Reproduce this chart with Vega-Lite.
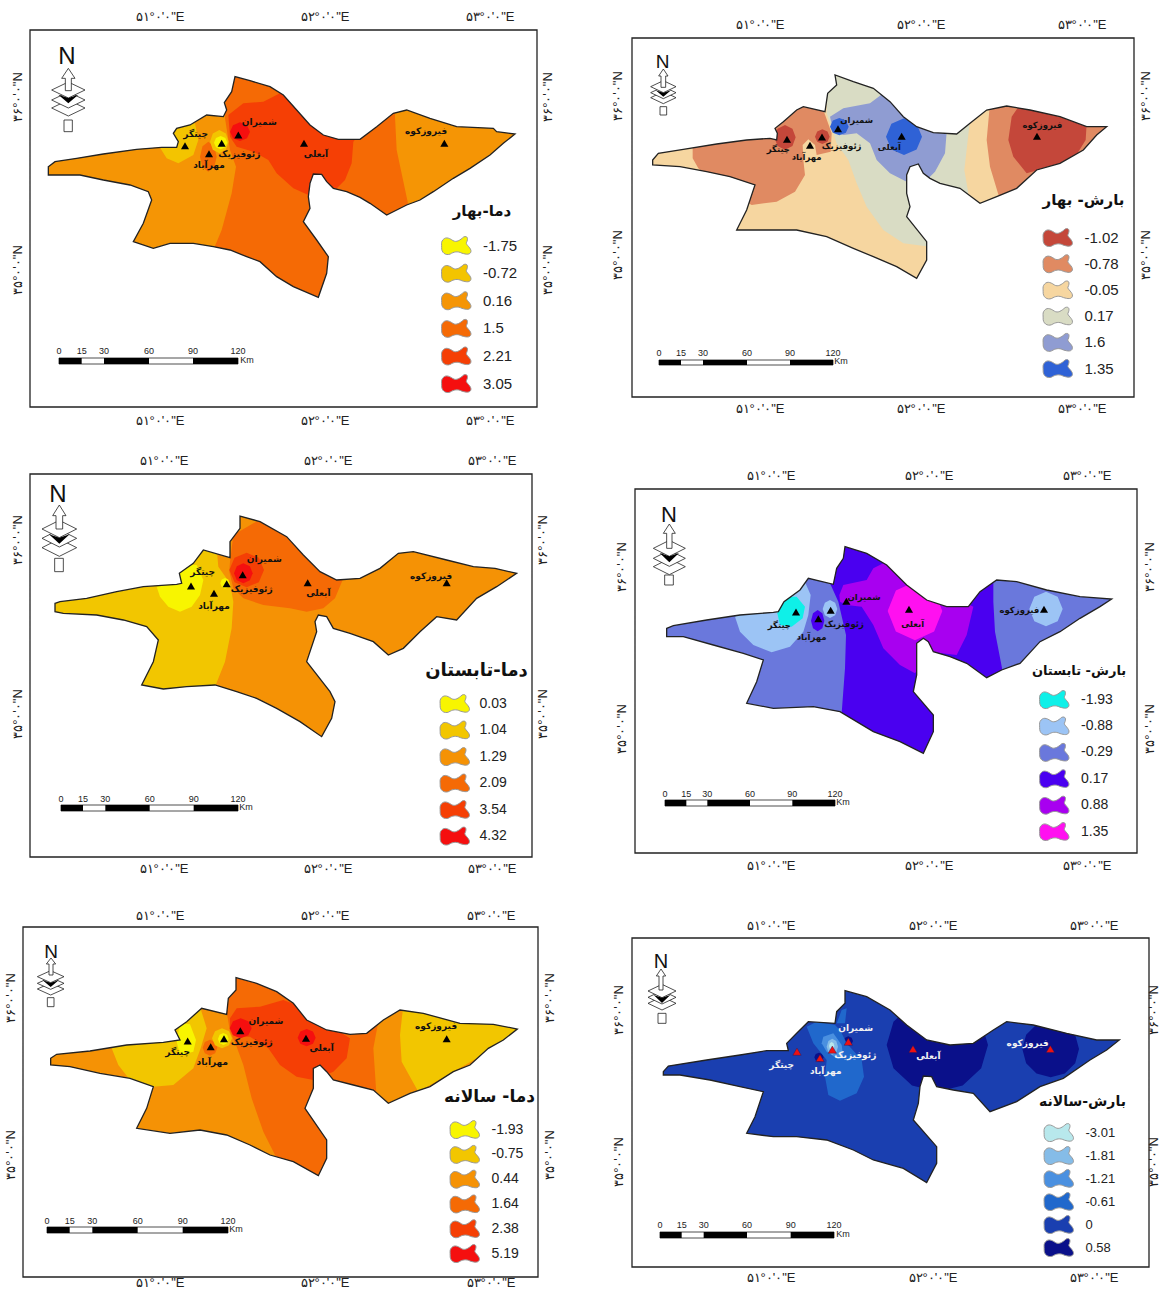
{"$schema":"https://vega.github.io/schema/vega-lite/v6.json","padding":0,"background":"white","config":{"view":{"stroke":null},"concat":{"spacing":0}},"bounds":"flush","columns":2,"spacing":0,"resolve":{"scale":{"color":"independent"},"legend":{"color":"independent"}},
"datasets":{
"frames":[
{"panel":"TL","type":"Feature","geometry":{"type":"Polygon","coordinates":[[[0,-90],[0,1041],[1521,1041],[1521,-90],[0,-90]],[[55,320],[75,305],[140,295],[220,282],[320,268],[395,262],[440,262],[445,245],[430,220],[440,205],[480,195],[530,165],[580,170],[590,150],[583,128],[605,95],[615,50],[660,62],[720,80],[760,105],[800,150],[840,195],[880,225],[925,238],[990,238],[1040,200],[1090,160],[1130,150],[1200,175],[1280,200],[1390,205],[1400,215],[1455,222],[1420,250],[1380,285],[1320,325],[1270,355],[1210,395],[1170,420],[1130,435],[1070,465],[1020,430],[990,412],[950,395],[910,385],[890,365],[875,343],[850,342],[840,370],[835,410],[840,445],[820,485],[860,540],[895,590],[890,640],[865,712],[790,680],[740,650],[690,605],[650,590],[600,570],[550,560],[490,550],[420,550],[370,565],[310,545],[340,490],[365,420],[355,395],[300,375],[220,360],[150,345],[100,345],[55,345],[55,320]]]}},
{"panel":"TR","type":"Feature","geometry":{"type":"Polygon","coordinates":[[[-24,-66],[-24,1011],[1482,1011],[1482,-66],[-24,-66]],[[38,300],[55,280],[130,268],[230,252],[320,240],[390,235],[410,240],[412,220],[405,205],[430,185],[470,150],[490,140],[555,155],[563,100],[590,75],[585,45],[640,65],[700,85],[750,125],[790,170],[830,200],[880,218],[950,222],[990,190],[1040,150],[1100,138],[1170,150],[1260,170],[1340,200],[1400,200],[1370,225],[1330,270],[1260,310],[1190,330],[1130,385],[1070,410],[1020,430],[960,385],[900,370],[870,355],[850,340],[835,312],[810,320],[800,345],[800,400],[810,440],[800,470],[860,545],[860,600],[830,655],[770,620],[700,590],[640,565],[560,530],[470,510],[370,510],[290,510],[320,450],[345,375],[270,350],[200,335],[120,320],[38,315],[38,300]]]}},
{"panel":"ML","type":"Feature","geometry":{"type":"Polygon","coordinates":[[[0,-93],[0,1056],[1506,1056],[1506,-93],[0,-93]],[[75,295],[90,290],[170,280],[260,260],[340,245],[440,238],[455,235],[448,205],[490,175],[520,135],[600,158],[600,110],[630,70],[630,33],[690,50],[770,95],[820,150],[870,200],[920,225],[990,220],[1050,190],[1105,145],[1150,140],[1250,165],[1330,185],[1395,190],[1460,205],[1400,245],[1340,280],[1280,345],[1220,335],[1170,380],[1120,430],[1075,450],[1030,410],[960,385],[910,370],[890,335],[865,330],[855,350],[860,380],[830,470],[900,560],[915,590],[905,640],[875,695],[810,650],[740,610],[680,580],[620,560],[555,540],[470,545],[400,552],[335,540],[370,470],[385,405],[350,365],[280,345],[200,330],[100,325],[75,320],[75,295]]]}},
{"panel":"MR","type":"Feature","geometry":{"type":"Polygon","coordinates":[[[-15,-138],[-15,954],[1491,954],[1491,-138],[-15,-138]],[[80,280],[100,272],[200,255],[300,240],[400,232],[415,230],[432,200],[480,165],[505,130],[580,148],[590,100],[610,70],[615,35],[680,55],[740,90],[800,150],[860,195],[920,215],[985,215],[1020,170],[1070,135],[1130,140],[1220,165],[1320,185],[1415,192],[1380,215],[1320,250],[1260,290],[1200,320],[1140,385],[1085,405],[1040,428],[980,385],[930,365],[880,350],[865,320],[850,310],[830,325],[830,370],[830,420],[820,470],[880,540],[880,590],[850,655],[780,620],[700,590],[650,560],[600,530],[520,515],[400,520],[320,505],[350,440],[370,375],[310,355],[220,330],[130,305],[80,305],[80,280]]]}},
{"panel":"BL","type":"Feature","geometry":{"type":"Polygon","coordinates":[[[-21,-114],[-21,936],[1524,936],[1524,-114],[-21,-114]],[[62,280],[80,268],[180,258],[290,240],[400,232],[450,225],[435,195],[470,170],[515,130],[590,148],[595,100],[618,75],[618,38],[680,55],[740,80],[790,115],[830,165],[890,195],[960,208],[1010,205],[1060,165],[1110,135],[1180,145],[1290,175],[1390,178],[1462,192],[1420,225],[1375,250],[1320,300],[1270,320],[1200,365],[1140,385],[1075,415],[1030,375],[970,360],[910,345],[890,320],[870,300],[850,310],[850,370],[825,430],[890,525],[890,580],[865,632],[790,590],[720,570],[660,540],[590,510],[510,495],[420,505],[320,490],[350,430],[370,365],[300,340],[210,325],[120,305],[62,300],[62,280]]]}},
{"panel":"BR","type":"Feature","geometry":{"type":"Polygon","coordinates":[[[-24,-126],[-24,861],[1527,861],[1527,-126],[-24,-126]],[[70,275],[85,258],[200,240],[300,225],[380,212],[445,212],[440,190],[470,160],[505,125],[585,130],[590,95],[615,70],[615,32],[680,50],[750,90],[800,135],[860,180],[930,195],[1000,190],[1060,150],[1100,125],[1180,135],[1280,160],[1370,180],[1438,180],[1400,210],[1350,240],[1270,295],[1200,320],[1130,365],[1050,395],[1000,340],[940,330],[890,320],[875,290],[850,288],[840,320],[835,370],[820,420],[890,500],[890,550],[860,608],[790,565],[700,540],[640,510],[560,480],[470,470],[400,470],[320,460],[345,410],[370,335],[300,320],[210,300],[120,285],[70,285],[70,275]]]}}
],
"zones":[
{"panel":"TL","value":"0.16","type":"Feature","geometry":{"type":"Polygon","coordinates":[[[30,20],[1470,20],[1470,730],[30,730],[30,20]]]}},
{"panel":"TL","value":"1.5","type":"Feature","geometry":{"type":"MultiPolygon","coordinates":[[[[550,730],[550,570],[575,510],[605,400],[618,320],[600,270],[585,175],[590,30],[1095,30],[1095,170],[1100,270],[1135,435],[1135,730],[550,730]]],[[[510,290],[517.5,258.5],[535,245],[552.5,258.5],[560,290],[552.5,321.5],[535,335],[517.5,321.5],[510,290]]]]}},
{"panel":"TL","value":"2.21","type":"Feature","geometry":{"type":"Polygon","coordinates":[[[595,165],[640,130],[700,125],[750,100],[760,80],[990,220],[970,245],[965,310],[945,360],[910,395],[835,405],[790,385],[740,340],[715,300],[670,275],[620,260],[600,230],[595,165]]]}},
{"panel":"TL","value":"3.05","type":"Feature","geometry":{"type":"Polygon","coordinates":[[[600,215],[609,195.4],[630,187],[651,195.4],[660,215],[651,234.6],[630,243],[609,234.6],[600,215]]]}},
{"panel":"TL","value":"-0.72","type":"Feature","geometry":{"type":"MultiPolygon","coordinates":[[[[425,195],[495,190],[505,240],[490,285],[445,310],[410,295],[385,255],[425,195]]],[[[540,245],[548.4,220.5],[568,210],[587.6,220.5],[596,245],[587.6,269.5],[568,280],[548.4,269.5],[540,245]]]]}},
{"panel":"TL","value":"-1.75","type":"Feature","geometry":{"type":"Polygon","coordinates":[[[552,248],[558,234],[572,228],[586,234],[592,248],[586,262],[572,268],[558,262],[552,248]]]}},
{"panel":"TR","value":"-0.05","type":"Feature","geometry":{"type":"Polygon","coordinates":[[[30,20],[1470,20],[1470,730],[30,730],[30,20]]]}},
{"panel":"TR","value":"0.17","type":"Feature","geometry":{"type":"Polygon","coordinates":[[[560,30],[700,30],[990,180],[973,330],[985,400],[870,400],[870,560],[790,550],[730,510],[680,440],[650,370],[625,300],[590,250],[560,160],[560,30]]]}},
{"panel":"TR","value":"-0.78","type":"Feature","geometry":{"type":"MultiPolygon","coordinates":[[[[158,240],[470,130],[550,150],[575,220],[572,275],[530,285],[525,255],[505,238],[488,255],[490,300],[495,345],[465,395],[410,425],[335,435],[240,380],[175,325],[158,295],[158,240]]],[[[1050,130],[1420,190],[1420,230],[1200,420],[1080,420],[1050,320],[1040,240],[1050,130]]]]}},
{"panel":"TR","value":"-1.02","type":"Feature","geometry":{"type":"MultiPolygon","coordinates":[[[[1150,120],[1230,130],[1340,190],[1337,240],[1300,300],[1160,340],[1120,290],[1105,240],[1115,170],[1150,120]]],[[[403,232],[412.6,206.1],[435,195],[457.4,206.1],[467,232],[457.4,257.9],[435,269],[412.6,257.9],[403,232]]],[[[525,230],[531.6,214.6],[547,208],[562.4,214.6],[569,230],[562.4,245.4],[547,252],[531.6,245.4],[525,230]]]]}},
{"panel":"TR","value":"1.6","type":"Feature","geometry":{"type":"Polygon","coordinates":[[[570,170],[610,145],[690,130],[730,100],[780,120],[830,180],[920,215],[915,280],[885,335],[860,360],[800,365],[750,340],[710,300],[690,250],[650,220],[610,225],[580,215],[570,170]]]}},
{"panel":"TR","value":"1.35","type":"Feature","geometry":{"type":"MultiPolygon","coordinates":[[[[570,200],[578.4,181.8],[598,174],[617.6,181.8],[626,200],[617.6,218.2],[598,226],[578.4,218.2],[570,200]]],[[[738,230],[754.2,191.5],[792,175],[829.8,191.5],[846,230],[829.8,268.5],[792,285],[754.2,268.5],[738,230]]]]}},
{"panel":"ML","value":"1.29","type":"Feature","geometry":{"type":"Polygon","coordinates":[[[30,20],[1470,20],[1470,730],[30,730],[30,20]]]}},
{"panel":"ML","value":"1.04","type":"Feature","geometry":{"type":"Polygon","coordinates":[[[40,250],[520,110],[560,130],[565,185],[600,235],[610,290],[605,370],[585,470],[555,545],[555,600],[40,600],[40,250]]]}},
{"panel":"ML","value":"0.03","type":"Feature","geometry":{"type":"MultiPolygon","coordinates":[[[[450,180],[500,180],[520,225],[510,270],[485,305],[450,320],[415,305],[390,275],[380,245],[445,230],[450,180]]],[[[571,235],[575.2,223.8],[585,219],[594.8,223.8],[599,235],[594.8,246.2],[585,251],[575.2,246.2],[571,235]]]]}},
{"panel":"ML","value":"2.09","type":"Feature","geometry":{"type":"Polygon","coordinates":[[[600,170],[610,90],[670,55],[700,40],[800,80],[940,220],[915,280],[880,310],[830,320],[780,310],[700,300],[640,280],[610,250],[598,200],[600,170]]]}},
{"panel":"ML","value":"3.54","type":"Feature","geometry":{"type":"Polygon","coordinates":[[[598,195],[613.6,158.6],[650,143],[686.4,158.6],[702,195],[686.4,231.4],[650,247],[613.6,231.4],[598,195]]]}},
{"panel":"ML","value":"4.32","type":"Feature","geometry":{"type":"Polygon","coordinates":[[[612,205],[620.4,184],[640,175],[659.6,184],[668,205],[659.6,226],[640,235],[620.4,226],[612,205]]]}},
{"panel":"MR","value":"-0.29","type":"Feature","geometry":{"type":"Polygon","coordinates":[[[30,20],[1470,20],[1470,730],[30,730],[30,20]]]}},
{"panel":"MR","value":"0.17","type":"Feature","geometry":{"type":"MultiPolygon","coordinates":[[[[605,680],[605,535],[615,400],[618,300],[595,200],[570,145],[590,20],[1060,140],[1060,200],[1065,290],[1090,420],[880,680],[605,680]]],[[[513,257],[519,234.6],[533,225],[547,234.6],[553,257],[547,279.4],[533,289],[519,279.4],[513,257]]]]}},
{"panel":"MR","value":"0.88","type":"Feature","geometry":{"type":"Polygon","coordinates":[[[598,180],[610,150],[680,135],[700,100],[730,85],[1000,215],[980,300],[950,360],[870,350],[825,415],[780,390],[730,340],[700,270],[665,215],[620,210],[600,200],[598,180]]]}},
{"panel":"MR","value":"1.35","type":"Feature","geometry":{"type":"Polygon","coordinates":[[[743,228],[767.6,166.4],[825,140],[882.4,166.4],[907,228],[882.4,289.6],[825,316],[767.6,289.6],[743,228]]]}},
{"panel":"MR","value":"-0.88","type":"Feature","geometry":{"type":"MultiPolygon","coordinates":[[[[285,245],[490,130],[512,180],[505,240],[490,290],[450,335],[395,352],[340,330],[300,290],[285,245]]],[[[548,222],[554.6,203.1],[570,195],[585.4,203.1],[592,222],[585.4,240.9],[570,249],[554.6,240.9],[548,222]]],[[[1168,222],[1183,185.6],[1218,170],[1253,185.6],[1268,222],[1253,258.4],[1218,274],[1183,258.4],[1168,222]]]]}},
{"panel":"MR","value":"-1.93","type":"Feature","geometry":{"type":"Polygon","coordinates":[[[440,185],[470,185],[495,215],[488,250],[455,275],[420,270],[412,235],[440,185]]]}},
{"panel":"BL","value":"0.44","type":"Feature","geometry":{"type":"Polygon","coordinates":[[[30,20],[1470,20],[1470,730],[30,730],[30,20]]]}},
{"panel":"BL","value":"1.64","type":"Feature","geometry":{"type":"MultiPolygon","coordinates":[[[[590,140],[610,20],[1045,170],[1030,250],[1040,400],[870,650],[740,580],[700,500],[665,400],[640,300],[618,240],[600,200],[590,140]]],[[[518,248],[524.6,231.2],[540,224],[555.4,231.2],[562,248],[555.4,264.8],[540,272],[524.6,264.8],[518,248]]]]}},
{"panel":"BL","value":"2.38","type":"Feature","geometry":{"type":"Polygon","coordinates":[[[600,160],[620,130],[690,125],[760,105],[800,120],[960,220],[950,280],[910,320],[850,345],[800,335],[750,300],[715,250],[660,215],[620,215],[600,190],[600,160]]]}},
{"panel":"BL","value":"5.19","type":"Feature","geometry":{"type":"MultiPolygon","coordinates":[[[[599,190],[608.9,169],[632,160],[655.1,169],[665,190],[655.1,211],[632,220],[608.9,211],[599,190]]],[[[803,218],[811.1,199.8],[830,192],[848.9,199.8],[857,218],[848.9,236.2],[830,244],[811.1,236.2],[803,218]]]]}},
{"panel":"BL","value":"-0.75","type":"Feature","geometry":{"type":"MultiPolygon","coordinates":[[[[245,250],[510,125],[530,190],[512,250],[490,310],[430,360],[370,365],[300,345],[265,300],[245,250]]],[[[1120,120],[1480,180],[1480,200],[1165,380],[1115,290],[1110,210],[1120,120]]],[[[546,220],[555,199],[576,190],[597,199],[606,220],[597,241],[576,250],[555,241],[546,220]]]]}},
{"panel":"BL","value":"-1.93","type":"Feature","geometry":{"type":"MultiPolygon","coordinates":[[[[450,175],[480,178],[498,225],[490,260],[450,270],[440,230],[450,175]]],[[[564,222],[568.8,209.4],[580,204],[591.2,209.4],[596,222],[591.2,234.6],[580,240],[568.8,234.6],[564,222]]]]}},
{"panel":"BR","value":"0","type":"Feature","geometry":{"type":"Polygon","coordinates":[[[30,20],[1470,20],[1470,730],[30,730],[30,20]]]}},
{"panel":"BR","value":"0.58","type":"Feature","geometry":{"type":"MultiPolygon","coordinates":[[[[740,195],[760.4,125],[816,73.8],[892,55],[968,73.8],[1023.6,125],[1044,195],[1023.6,265],[968,316.2],[892,335],[816,316.2],[760.4,265],[740,195]]],[[[1147,207],[1158.4,164.5],[1189.5,133.4],[1232,122],[1274.5,133.4],[1305.6,164.5],[1317,207],[1305.6,249.5],[1274.5,280.6],[1232,292],[1189.5,280.6],[1158.4,249.5],[1147,207]]],[[[611,183],[615.2,173.2],[625,169],[634.8,173.2],[639,183],[634.8,192.8],[625,197],[615.2,192.8],[611,183]]],[[[523,232],[527.2,222.2],[537,218],[546.8,222.2],[551,232],[546.8,241.8],[537,246],[527.2,241.8],[523,232]]]]}},
{"panel":"BR","value":"-0.61","type":"Feature","geometry":{"type":"MultiPolygon","coordinates":[[[[500,140],[530,125],[585,135],[600,150],[620,190],[665,240],[672,290],[650,340],[600,362],[565,345],[555,290],[560,240],[520,190],[500,140]]],[[[590,130],[605,90],[620,85],[615,130],[590,130]]]]}},
{"panel":"BR","value":"-1.21","type":"Feature","geometry":{"type":"Polygon","coordinates":[[[550,170],[580,160],[605,195],[610,235],[590,235],[560,215],[545,190],[550,170]]]}},
{"panel":"BR","value":"-1.81","type":"Feature","geometry":{"type":"Polygon","coordinates":[[[560,200],[565.1,183.2],[577,176],[588.9,183.2],[594,200],[588.9,216.8],[577,224],[565.1,216.8],[560,200]]]}},
{"panel":"BR","value":"-3.01","type":"Feature","geometry":{"type":"Polygon","coordinates":[[[567,198],[569.4,189.6],[575,186],[580.6,189.6],[583,198],[580.6,206.4],[575,210],[569.4,206.4],[567,198]]]}}
],
"ornWhite":[
{"panel":"TL","type":"Feature","geometry":{"type":"Polygon","coordinates":[[[102,180],[127,180],[127,215],[102,215],[102,180]]]}},
{"panel":"TL","type":"Feature","geometry":{"type":"Polygon","coordinates":[[[65,144],[115,120],[165,144],[115,168],[65,144]]]}},
{"panel":"TL","type":"Feature","geometry":{"type":"Polygon","coordinates":[[[65,120],[115,96],[165,120],[115,144],[65,120]]]}},
{"panel":"TL","type":"Feature","geometry":{"type":"Polygon","coordinates":[[[65,90],[115,66],[165,90],[115,114],[65,90]]]}},
{"panel":"TL","type":"Feature","geometry":{"type":"Polygon","coordinates":[[[115,25],[135,55],[124,55],[124,92],[106,92],[106,55],[95,55],[115,25]]]}},
{"panel":"TL","type":"Feature","geometry":{"type":"Polygon","coordinates":[[[87,894],[624,894],[624,912],[87,912],[87,894]]]}},
{"panel":"TR","type":"Feature","geometry":{"type":"Polygon","coordinates":[[[60,140],[80,140],[80,165],[60,165],[60,140]]]}},
{"panel":"TR","type":"Feature","geometry":{"type":"Polygon","coordinates":[[[32,113],[70,95],[108,113],[70,131],[32,113]]]}},
{"panel":"TR","type":"Feature","geometry":{"type":"Polygon","coordinates":[[[32,98],[70,80],[108,98],[70,116],[32,98]]]}},
{"panel":"TR","type":"Feature","geometry":{"type":"Polygon","coordinates":[[[32,80],[70,62],[108,80],[70,98],[32,80]]]}},
{"panel":"TR","type":"Feature","geometry":{"type":"Polygon","coordinates":[[[70,27],[84,48],[77,48],[77,82],[63,82],[63,48],[56,48],[70,27]]]}},
{"panel":"TR","type":"Feature","geometry":{"type":"Polygon","coordinates":[[[57,900],[579,900],[579,915],[57,915],[57,900]]]}},
{"panel":"ML","type":"Feature","geometry":{"type":"Polygon","coordinates":[[[74,160],[100,160],[100,200],[74,200],[74,160]]]}},
{"panel":"ML","type":"Feature","geometry":{"type":"Polygon","coordinates":[[[36,128],[88,102],[140,128],[88,154],[36,128]]]}},
{"panel":"ML","type":"Feature","geometry":{"type":"Polygon","coordinates":[[[36,100],[88,74],[140,100],[88,126],[36,100]]]}},
{"panel":"ML","type":"Feature","geometry":{"type":"Polygon","coordinates":[[[36,72],[88,46],[140,72],[88,98],[36,72]]]}},
{"panel":"ML","type":"Feature","geometry":{"type":"Polygon","coordinates":[[[88,0],[108,32],[98,32],[98,72],[78,72],[78,32],[68,32],[88,0]]]}},
{"panel":"ML","type":"Feature","geometry":{"type":"Polygon","coordinates":[[[93,900],[624,900],[624,918],[93,918],[93,900]]]}},
{"panel":"MR","type":"Feature","geometry":{"type":"Polygon","coordinates":[[[74,120],[100,120],[100,150],[74,150],[74,120]]]}},
{"panel":"MR","type":"Feature","geometry":{"type":"Polygon","coordinates":[[[40,95],[88,71],[136,95],[88,119],[40,95]]]}},
{"panel":"MR","type":"Feature","geometry":{"type":"Polygon","coordinates":[[[40,70],[88,46],[136,70],[88,94],[40,70]]]}},
{"panel":"MR","type":"Feature","geometry":{"type":"Polygon","coordinates":[[[40,40],[88,16],[136,40],[88,64],[40,40]]]}},
{"panel":"MR","type":"Feature","geometry":{"type":"Polygon","coordinates":[[[88,-33],[106,-5],[96,-5],[96,40],[80,40],[80,-5],[70,-5],[88,-33]]]}},
{"panel":"MR","type":"Feature","geometry":{"type":"Polygon","coordinates":[[[75,795],[585,795],[585,813],[75,813],[75,795]]]}},
{"panel":"BL","type":"Feature","geometry":{"type":"Polygon","coordinates":[[[52,98],[72,98],[72,125],[52,125],[52,98]]]}},
{"panel":"BL","type":"Feature","geometry":{"type":"Polygon","coordinates":[[[22,72],[62,54],[102,72],[62,90],[22,72]]]}},
{"panel":"BL","type":"Feature","geometry":{"type":"Polygon","coordinates":[[[22,55],[62,37],[102,55],[62,73],[22,55]]]}},
{"panel":"BL","type":"Feature","geometry":{"type":"Polygon","coordinates":[[[22,35],[62,17],[102,35],[62,53],[22,35]]]}},
{"panel":"BL","type":"Feature","geometry":{"type":"Polygon","coordinates":[[[63,-21],[77,-3],[69,-3],[69,30],[57,30],[57,-3],[49,-3],[63,-21]]]}},
{"panel":"BL","type":"Feature","geometry":{"type":"Polygon","coordinates":[[[51,786],[594,786],[594,804],[51,804],[51,786]]]}},
{"panel":"BR","type":"Feature","geometry":{"type":"Polygon","coordinates":[[[54,100],[78,100],[78,130],[54,130],[54,100]]]}},
{"panel":"BR","type":"Feature","geometry":{"type":"Polygon","coordinates":[[[24,70],[66,50],[108,70],[66,90],[24,70]]]}},
{"panel":"BR","type":"Feature","geometry":{"type":"Polygon","coordinates":[[[24,52],[66,32],[108,52],[66,72],[24,52]]]}},
{"panel":"BR","type":"Feature","geometry":{"type":"Polygon","coordinates":[[[24,33],[66,13],[108,33],[66,53],[24,33]]]}},
{"panel":"BR","type":"Feature","geometry":{"type":"Polygon","coordinates":[[[63,-33],[77,-12],[69,-12],[69,30],[57,30],[57,-12],[49,-12],[63,-33]]]}},
{"panel":"BR","type":"Feature","geometry":{"type":"Polygon","coordinates":[[[60,756],[582,756],[582,774],[60,774],[60,756]]]}}
],
"barBlack":[
{"panel":"TL","type":"Feature","geometry":{"type":"MultiPolygon","coordinates":[[[[87,894],[155,894],[155,912],[87,912],[87,894]]],[[[222,894],[357,894],[357,912],[222,912],[222,894]]],[[[489,894],[624,894],[624,912],[489,912],[489,894]]],[[[85,104],[115,114],[145,104],[115,130],[85,104]]]]}},
{"panel":"TR","type":"Feature","geometry":{"type":"MultiPolygon","coordinates":[[[[57,900],[123,900],[123,915],[57,915],[57,900]]],[[[189,900],[321,900],[321,915],[189,915],[189,900]]],[[[450,900],[579,900],[579,915],[450,915],[450,900]]],[[[47,91],[70,98],[93,91],[70,110],[47,91]]]]}},
{"panel":"ML","type":"Feature","geometry":{"type":"MultiPolygon","coordinates":[[[[93,900],[159,900],[159,918],[93,918],[93,900]]],[[[226,900],[359,900],[359,918],[226,918],[226,900]]],[[[491,900],[624,900],[624,918],[491,918],[491,900]]],[[[57,88],[88,98],[119,88],[88,116],[57,88]]]]}},
{"panel":"MR","type":"Feature","geometry":{"type":"MultiPolygon","coordinates":[[[[75,795],[139,795],[139,813],[75,813],[75,795]]],[[[202,795],[330,795],[330,813],[202,813],[202,795]]],[[[457,795],[585,795],[585,813],[457,813],[457,795]]],[[[59,54],[88,64],[117,54],[88,82],[59,54]]]]}},
{"panel":"BL","type":"Feature","geometry":{"type":"MultiPolygon","coordinates":[[[[51,786],[119,786],[119,804],[51,804],[51,786]]],[[[187,786],[323,786],[323,804],[187,804],[187,786]]],[[[458,786],[594,786],[594,804],[458,804],[458,786]]],[[[38,46],[62,53],[86,46],[62,66],[38,46]]]]}},
{"panel":"BR","type":"Feature","geometry":{"type":"MultiPolygon","coordinates":[[[[60,756],[125,756],[125,774],[60,774],[60,756]]],[[[191,756],[321,756],[321,774],[191,774],[191,756]]],[[[452,756],[582,756],[582,774],[452,774],[452,756]]],[[[41,45],[66,53],[91,45],[66,69],[41,45]]]]}}
],
"stations":[
{"panel":"TL","name":"چیتگر","tx":465,"ty":257,"lx":497,"ly":222},{"panel":"TL","name":"مهرآباد","tx":537,"ty":281,"lx":537,"ly":315},{"panel":"TL","name":"ژئوفیزیک","tx":575,"ty":250,"lx":628,"ly":283},{"panel":"TL","name":"شمیران","tx":625,"ty":225,"lx":688,"ly":187},{"panel":"TL","name":"آبعلی","tx":822,"ty":250,"lx":858,"ly":281},{"panel":"TL","name":"فیروزکوه","tx":1243,"ty":250,"lx":1188,"ly":213},
{"panel":"TR","name":"چیتگر","tx":441,"ty":238,"lx":415,"ly":267},{"panel":"TR","name":"مهرآباد","tx":510,"ty":256,"lx":500,"ly":290},{"panel":"TR","name":"ژئوفیزیک","tx":546,"ty":231,"lx":605,"ly":257},{"panel":"TR","name":"شمیران","tx":594,"ty":206,"lx":650,"ly":180},{"panel":"TR","name":"آبعلی","tx":785,"ty":229,"lx":748,"ly":262},{"panel":"TR","name":"فیروزکوه","tx":1191,"ty":229,"lx":1207,"ly":195},
{"panel":"ML","name":"چیتگر","tx":483,"ty":243,"lx":518,"ly":200},{"panel":"ML","name":"مهرآباد","tx":552,"ty":265,"lx":552,"ly":303},{"panel":"ML","name":"ژئوفیزیک","tx":590,"ty":236,"lx":665,"ly":253},{"panel":"ML","name":"شمیران","tx":638,"ty":209,"lx":703,"ly":162},{"panel":"ML","name":"آبعلی","tx":833,"ty":233,"lx":865,"ly":265},{"panel":"ML","name":"فیروزکوه","tx":1250,"ty":233,"lx":1203,"ly":212},
{"panel":"MR","name":"چیتگر","tx":468,"ty":231,"lx":418,"ly":270},{"panel":"MR","name":"مهرآباد","tx":535,"ty":251,"lx":515,"ly":307},{"panel":"MR","name":"ژئوفیزیک","tx":572,"ty":226,"lx":612,"ly":268},{"panel":"MR","name":"شمیران","tx":619,"ty":199,"lx":672,"ly":187},{"panel":"MR","name":"آبعلی","tx":807,"ty":223,"lx":818,"ly":268},{"panel":"MR","name":"فیروزکوه","tx":1212,"ty":223,"lx":1138,"ly":226},
{"panel":"BL","name":"چیتگر","tx":473,"ty":228,"lx":443,"ly":262},{"panel":"BL","name":"مهرآباد","tx":542,"ty":245,"lx":547,"ly":292},{"panel":"BL","name":"ژئوفیزیک","tx":582,"ty":221,"lx":665,"ly":232},{"panel":"BL","name":"شمیران","tx":631,"ty":197,"lx":708,"ly":168},{"panel":"BL","name":"آبعلی","tx":828,"ty":220,"lx":875,"ly":250},{"panel":"BL","name":"فیروزکوه","tx":1250,"ty":221,"lx":1218,"ly":183},
{"panel":"BR","name":"چیتگر","tx":471,"ty":215,"lx":425,"ly":256},{"panel":"BR","name":"مهرآباد","tx":540,"ty":234,"lx":557,"ly":272},{"panel":"BR","name":"ژئوفیزیک","tx":577,"ty":209,"lx":646,"ly":224},{"panel":"BR","name":"شمیران","tx":625,"ty":185,"lx":647,"ly":143},{"panel":"BR","name":"آبعلی","tx":819,"ty":207,"lx":865,"ly":228},{"panel":"BR","name":"فیروزکوه","tx":1231,"ty":207,"lx":1163,"ly":189}
],
"ticksH":[
{"panel":"TL","label":"۵۱°۰'۰\"E","x":390,"y":-129},{"panel":"TL","label":"۵۲°۰'۰\"E","x":885,"y":-129},{"panel":"TL","label":"۵۳°۰'۰\"E","x":1380,"y":-129},{"panel":"TL","label":"۵۱°۰'۰\"E","x":390,"y":1083},{"panel":"TL","label":"۵۲°۰'۰\"E","x":885,"y":1083},{"panel":"TL","label":"۵۳°۰'۰\"E","x":1380,"y":1083},
{"panel":"TR","label":"۵۱°۰'۰\"E","x":360,"y":-105},{"panel":"TR","label":"۵۲°۰'۰\"E","x":843,"y":-105},{"panel":"TR","label":"۵۳°۰'۰\"E","x":1326,"y":-105},{"panel":"TR","label":"۵۱°۰'۰\"E","x":360,"y":1047},{"panel":"TR","label":"۵۲°۰'۰\"E","x":843,"y":1047},{"panel":"TR","label":"۵۳°۰'۰\"E","x":1326,"y":1047},
{"panel":"ML","label":"۵۱°۰'۰\"E","x":402,"y":-132},{"panel":"ML","label":"۵۲°۰'۰\"E","x":894,"y":-132},{"panel":"ML","label":"۵۳°۰'۰\"E","x":1386,"y":-132},{"panel":"ML","label":"۵۱°۰'۰\"E","x":402,"y":1092},{"panel":"ML","label":"۵۲°۰'۰\"E","x":894,"y":1092},{"panel":"ML","label":"۵۳°۰'۰\"E","x":1386,"y":1092},
{"panel":"MR","label":"۵۱°۰'۰\"E","x":393,"y":-177},{"panel":"MR","label":"۵۲°۰'۰\"E","x":867,"y":-177},{"panel":"MR","label":"۵۳°۰'۰\"E","x":1341,"y":-177},{"panel":"MR","label":"۵۱°۰'۰\"E","x":393,"y":993},{"panel":"MR","label":"۵۲°۰'۰\"E","x":867,"y":993},{"panel":"MR","label":"۵۳°۰'۰\"E","x":1341,"y":993},
{"panel":"BL","label":"۵۱°۰'۰\"E","x":390,"y":-147},{"panel":"BL","label":"۵۲°۰'۰\"E","x":885,"y":-147},{"panel":"BL","label":"۵۳°۰'۰\"E","x":1383,"y":-147},{"panel":"BL","label":"۵۱°۰'۰\"E","x":390,"y":954},{"panel":"BL","label":"۵۲°۰'۰\"E","x":885,"y":954},{"panel":"BL","label":"۵۳°۰'۰\"E","x":1383,"y":954},
{"panel":"BR","label":"۵۱°۰'۰\"E","x":393,"y":-162},{"panel":"BR","label":"۵۲°۰'۰\"E","x":879,"y":-162},{"panel":"BR","label":"۵۳°۰'۰\"E","x":1362,"y":-162},{"panel":"BR","label":"۵۱°۰'۰\"E","x":393,"y":894},{"panel":"BR","label":"۵۲°۰'۰\"E","x":879,"y":894},{"panel":"BR","label":"۵۳°۰'۰\"E","x":1362,"y":894}
],
"ticksV":[
{"panel":"TL","label":"۳۶°۰'۰\"N","x":-36,"y":111},{"panel":"TL","label":"۳۵°۰'۰\"N","x":-36,"y":630},{"panel":"TL","label":"۳۶°۰'۰\"N","x":1554,"y":111},{"panel":"TL","label":"۳۵°۰'۰\"N","x":1554,"y":630},
{"panel":"TR","label":"۳۶°۰'۰\"N","x":-66,"y":108},{"panel":"TR","label":"۳۵°۰'۰\"N","x":-66,"y":585},{"panel":"TR","label":"۳۶°۰'۰\"N","x":1518,"y":108},{"panel":"TR","label":"۳۵°۰'۰\"N","x":1518,"y":585},
{"panel":"ML","label":"۳۶°۰'۰\"N","x":-36,"y":105},{"panel":"ML","label":"۳۵°۰'۰\"N","x":-36,"y":627},{"panel":"ML","label":"۳۶°۰'۰\"N","x":1539,"y":105},{"panel":"ML","label":"۳۵°۰'۰\"N","x":1539,"y":627},
{"panel":"MR","label":"۳۶°۰'۰\"N","x":-54,"y":96},{"panel":"MR","label":"۳۵°۰'۰\"N","x":-54,"y":582},{"panel":"MR","label":"۳۶°۰'۰\"N","x":1530,"y":96},{"panel":"MR","label":"۳۵°۰'۰\"N","x":1530,"y":582},
{"panel":"BL","label":"۳۶°۰'۰\"N","x":-57,"y":99},{"panel":"BL","label":"۳۵°۰'۰\"N","x":-57,"y":570},{"panel":"BL","label":"۳۶°۰'۰\"N","x":1560,"y":99},{"panel":"BL","label":"۳۵°۰'۰\"N","x":1560,"y":570},
{"panel":"BR","label":"۳۶°۰'۰\"N","x":-63,"y":90},{"panel":"BR","label":"۳۵°۰'۰\"N","x":-63,"y":546},{"panel":"BR","label":"۳۶°۰'۰\"N","x":1542,"y":90},{"panel":"BR","label":"۳۵°۰'۰\"N","x":1542,"y":546}
],
"barText":[
{"panel":"TL","label":"0","x":87,"y":873},{"panel":"TL","label":"15","x":155,"y":873},{"panel":"TL","label":"30","x":222,"y":873},{"panel":"TL","label":"60","x":357,"y":873},{"panel":"TL","label":"90","x":489,"y":873},{"panel":"TL","label":"120","x":624,"y":873},{"panel":"TL","label":"Km","x":651,"y":900},
{"panel":"TR","label":"0","x":57,"y":879},{"panel":"TR","label":"15","x":123,"y":879},{"panel":"TR","label":"30","x":189,"y":879},{"panel":"TR","label":"60","x":321,"y":879},{"panel":"TR","label":"90","x":450,"y":879},{"panel":"TR","label":"120","x":579,"y":879},{"panel":"TR","label":"Km","x":603,"y":903},
{"panel":"ML","label":"0","x":93,"y":882},{"panel":"ML","label":"15","x":159,"y":882},{"panel":"ML","label":"30","x":226,"y":882},{"panel":"ML","label":"60","x":359,"y":882},{"panel":"ML","label":"90","x":491,"y":882},{"panel":"ML","label":"120","x":624,"y":882},{"panel":"ML","label":"Km","x":648,"y":906},
{"panel":"MR","label":"0","x":75,"y":777},{"panel":"MR","label":"15","x":139,"y":777},{"panel":"MR","label":"30","x":202,"y":777},{"panel":"MR","label":"60","x":330,"y":777},{"panel":"MR","label":"90","x":457,"y":777},{"panel":"MR","label":"120","x":585,"y":777},{"panel":"MR","label":"Km","x":609,"y":801},
{"panel":"BL","label":"0","x":51,"y":768},{"panel":"BL","label":"15","x":119,"y":768},{"panel":"BL","label":"30","x":187,"y":768},{"panel":"BL","label":"60","x":323,"y":768},{"panel":"BL","label":"90","x":458,"y":768},{"panel":"BL","label":"120","x":594,"y":768},{"panel":"BL","label":"Km","x":618,"y":792},
{"panel":"BR","label":"0","x":60,"y":735},{"panel":"BR","label":"15","x":125,"y":735},{"panel":"BR","label":"30","x":191,"y":735},{"panel":"BR","label":"60","x":321,"y":735},{"panel":"BR","label":"90","x":452,"y":735},{"panel":"BR","label":"120","x":582,"y":735},{"panel":"BR","label":"Km","x":609,"y":762}
],
"north":[{"panel":"TL","label":"N","x":111,"y":-9},{"panel":"TR","label":"N","x":68,"y":6},{"panel":"ML","label":"N","x":84,"y":-30},{"panel":"MR","label":"N","x":87,"y":-60},{"panel":"BL","label":"N","x":63,"y":-39},{"panel":"BR","label":"N","x":63,"y":-54}]
},
"concat":[
{"width":580,"height":445,"projection":{"type":"identity","precision":0.5,"scale":0.3333333,"translate":[30,60]},"layer":[
{"data":{"name":"zones"},"transform":[{"filter":"datum.panel==='TL'"}],"mark":{"type":"geoshape","stroke":null},"encoding":{"color":{"field":"value","type":"nominal","scale":{"domain":["-1.75","-0.72","0.16","1.5","2.21","3.05"],"range":["#f8f500","#f3c400","#f59505","#f56a05","#f53f05","#f50f0f"]},"legend":{"title":"دما-بهار","orient":"none","legendX":447,"legendY":204,"titleFont":"DejaVu Sans","titleFontWeight":"bold","titleFontSize":15,"titleColor":"#111","titleAnchor":"middle","titlePadding":17,"labelFont":"Liberation Sans","labelFontSize":15,"labelColor":"#222","labelOffset":17,"rowPadding":4.6,"symbolSize":324,"symbolStrokeColor":"#999","symbolStrokeWidth":1,"symbolType":"M-1.6,-0.5 C-1.3,-1 -0.9,-0.9 -0.4,-0.55 C0,-0.3 0.4,-0.6 0.8,-0.95 C1.2,-1.1 1.35,-0.8 1.1,-0.3 C1,-0.1 1.7,0.3 1.6,0.7 C1.5,1.05 1.1,1 0.6,0.85 C0.1,0.6 -0.3,0.7 -0.7,0.95 C-1.2,1.15 -1.7,0.8 -1.65,0.2 C-1.65,-0.1 -1.7,-0.3 -1.6,-0.5 Z"}}}},
{"data":{"name":"frames"},"transform":[{"filter":"datum.panel==='TL'"}],"mark":{"type":"geoshape","fill":"white","stroke":"#222","strokeWidth":1.3},"encoding":{}},
{"data":{"name":"ornWhite"},"transform":[{"filter":"datum.panel==='TL'"}],"mark":{"type":"geoshape","fill":"white","stroke":"#222","strokeWidth":0.8},"encoding":{}},
{"data":{"name":"barBlack"},"transform":[{"filter":"datum.panel==='TL'"}],"mark":{"type":"geoshape","fill":"black","stroke":null},"encoding":{}},
{"data":{"name":"stations"},"transform":[{"filter":"datum.panel==='TL'"}],"mark":{"type":"point","shape":"triangle-up","filled":true,"color":"black","opacity":1,"size":65},"encoding":{"longitude":{"field":"tx","type":"quantitative"},"latitude":{"field":"ty","type":"quantitative"}}},
{"data":{"name":"stations"},"transform":[{"filter":"datum.panel==='TL'"}],"mark":{"type":"text","font":"DejaVu Sans","fontSize":9,"fontWeight":"bold","color":"#111"},"encoding":{"longitude":{"field":"lx","type":"quantitative"},"latitude":{"field":"ly","type":"quantitative"},"text":{"field":"name"}}},
{"data":{"name":"ticksH"},"transform":[{"filter":"datum.panel==='TL'"}],"mark":{"type":"text","font":"Liberation Sans","fontSize":13,"color":"#222"},"encoding":{"longitude":{"field":"x","type":"quantitative"},"latitude":{"field":"y","type":"quantitative"},"text":{"field":"label"}}},
{"data":{"name":"ticksV"},"transform":[{"filter":"datum.panel==='TL'"}],"mark":{"type":"text","font":"Liberation Sans","fontSize":13,"color":"#222","angle":270},"encoding":{"longitude":{"field":"x","type":"quantitative"},"latitude":{"field":"y","type":"quantitative"},"text":{"field":"label"}}},
{"data":{"name":"barText"},"transform":[{"filter":"datum.panel==='TL'"}],"mark":{"type":"text","font":"Liberation Sans","fontSize":9,"color":"#222"},"encoding":{"longitude":{"field":"x","type":"quantitative"},"latitude":{"field":"y","type":"quantitative"},"text":{"field":"label"}}},
{"data":{"name":"north"},"transform":[{"filter":"datum.panel==='TL'"}],"mark":{"type":"text","font":"Liberation Sans","fontSize":24,"color":"#111"},"encoding":{"longitude":{"field":"x","type":"quantitative"},"latitude":{"field":"y","type":"quantitative"},"text":{"field":"label"}}}
]},
{"width":581,"height":445,"projection":{"type":"identity","precision":0.6,"scale":0.3333333,"translate":[60,60]},"layer":[
{"data":{"name":"zones"},"transform":[{"filter":"datum.panel==='TR'"}],"mark":{"type":"geoshape","stroke":null},"encoding":{"color":{"field":"value","type":"nominal","scale":{"domain":["-1.02","-0.78","-0.05","0.17","1.6","1.35"],"range":["#c4473a","#e08a62","#f6d6a0","#d9dcc4","#8f9cd2","#2f62d6"]},"legend":{"title":"بارش- بهار","orient":"none","legendX":462.5,"legendY":193,"titleFont":"DejaVu Sans","titleFontWeight":"bold","titleFontSize":15,"titleColor":"#111","titleAnchor":"middle","titlePadding":20,"labelFont":"Liberation Sans","labelFontSize":15,"labelColor":"#222","labelOffset":17,"rowPadding":3.2,"symbolSize":324,"symbolStrokeColor":"#999","symbolStrokeWidth":1,"symbolType":"M-1.6,-0.5 C-1.3,-1 -0.9,-0.9 -0.4,-0.55 C0,-0.3 0.4,-0.6 0.8,-0.95 C1.2,-1.1 1.35,-0.8 1.1,-0.3 C1,-0.1 1.7,0.3 1.6,0.7 C1.5,1.05 1.1,1 0.6,0.85 C0.1,0.6 -0.3,0.7 -0.7,0.95 C-1.2,1.15 -1.7,0.8 -1.65,0.2 C-1.65,-0.1 -1.7,-0.3 -1.6,-0.5 Z"}}}},
{"data":{"name":"frames"},"transform":[{"filter":"datum.panel==='TR'"}],"mark":{"type":"geoshape","fill":"white","stroke":"#222","strokeWidth":1.3},"encoding":{}},
{"data":{"name":"ornWhite"},"transform":[{"filter":"datum.panel==='TR'"}],"mark":{"type":"geoshape","fill":"white","stroke":"#222","strokeWidth":0.8},"encoding":{}},
{"data":{"name":"barBlack"},"transform":[{"filter":"datum.panel==='TR'"}],"mark":{"type":"geoshape","fill":"black","stroke":null},"encoding":{}},
{"data":{"name":"stations"},"transform":[{"filter":"datum.panel==='TR'"}],"mark":{"type":"point","shape":"triangle-up","filled":true,"color":"black","opacity":1,"size":65},"encoding":{"longitude":{"field":"tx","type":"quantitative"},"latitude":{"field":"ty","type":"quantitative"}}},
{"data":{"name":"stations"},"transform":[{"filter":"datum.panel==='TR'"}],"mark":{"type":"text","font":"DejaVu Sans","fontSize":8.5,"fontWeight":"bold","color":"#111"},"encoding":{"longitude":{"field":"lx","type":"quantitative"},"latitude":{"field":"ly","type":"quantitative"},"text":{"field":"name"}}},
{"data":{"name":"ticksH"},"transform":[{"filter":"datum.panel==='TR'"}],"mark":{"type":"text","font":"Liberation Sans","fontSize":13,"color":"#222"},"encoding":{"longitude":{"field":"x","type":"quantitative"},"latitude":{"field":"y","type":"quantitative"},"text":{"field":"label"}}},
{"data":{"name":"ticksV"},"transform":[{"filter":"datum.panel==='TR'"}],"mark":{"type":"text","font":"Liberation Sans","fontSize":13,"color":"#222","angle":270},"encoding":{"longitude":{"field":"x","type":"quantitative"},"latitude":{"field":"y","type":"quantitative"},"text":{"field":"label"}}},
{"data":{"name":"barText"},"transform":[{"filter":"datum.panel==='TR'"}],"mark":{"type":"text","font":"Liberation Sans","fontSize":9,"color":"#222"},"encoding":{"longitude":{"field":"x","type":"quantitative"},"latitude":{"field":"y","type":"quantitative"},"text":{"field":"label"}}},
{"data":{"name":"north"},"transform":[{"filter":"datum.panel==='TR'"}],"mark":{"type":"text","font":"Liberation Sans","fontSize":19,"color":"#111"},"encoding":{"longitude":{"field":"x","type":"quantitative"},"latitude":{"field":"y","type":"quantitative"},"text":{"field":"label"}}}
]},
{"width":580,"height":455,"projection":{"type":"identity","precision":0.7,"scale":0.3333333,"translate":[30,60]},"layer":[
{"data":{"name":"zones"},"transform":[{"filter":"datum.panel==='ML'"}],"mark":{"type":"geoshape","stroke":null},"encoding":{"color":{"field":"value","type":"nominal","scale":{"domain":["0.03","1.04","1.29","2.09","3.54","4.32"],"range":["#f8f500","#f2c600","#f59205","#f56a05","#f53f05","#f50f0f"]},"legend":{"title":"دما-تابستان","orient":"none","legendX":425.5,"legendY":217,"titleFont":"DejaVu Sans","titleFontWeight":"bold","titleFontSize":18,"titleColor":"#111","titleAnchor":"middle","titlePadding":14,"labelFont":"Liberation Sans","labelFontSize":14,"labelColor":"#222","labelOffset":15,"rowPadding":3.5,"symbolSize":324,"symbolStrokeColor":"#999","symbolStrokeWidth":1,"symbolType":"M-1.6,-0.5 C-1.3,-1 -0.9,-0.9 -0.4,-0.55 C0,-0.3 0.4,-0.6 0.8,-0.95 C1.2,-1.1 1.35,-0.8 1.1,-0.3 C1,-0.1 1.7,0.3 1.6,0.7 C1.5,1.05 1.1,1 0.6,0.85 C0.1,0.6 -0.3,0.7 -0.7,0.95 C-1.2,1.15 -1.7,0.8 -1.65,0.2 C-1.65,-0.1 -1.7,-0.3 -1.6,-0.5 Z"}}}},
{"data":{"name":"frames"},"transform":[{"filter":"datum.panel==='ML'"}],"mark":{"type":"geoshape","fill":"white","stroke":"#222","strokeWidth":1.3},"encoding":{}},
{"data":{"name":"ornWhite"},"transform":[{"filter":"datum.panel==='ML'"}],"mark":{"type":"geoshape","fill":"white","stroke":"#222","strokeWidth":0.8},"encoding":{}},
{"data":{"name":"barBlack"},"transform":[{"filter":"datum.panel==='ML'"}],"mark":{"type":"geoshape","fill":"black","stroke":null},"encoding":{}},
{"data":{"name":"stations"},"transform":[{"filter":"datum.panel==='ML'"}],"mark":{"type":"point","shape":"triangle-up","filled":true,"color":"black","opacity":1,"size":65},"encoding":{"longitude":{"field":"tx","type":"quantitative"},"latitude":{"field":"ty","type":"quantitative"}}},
{"data":{"name":"stations"},"transform":[{"filter":"datum.panel==='ML'"}],"mark":{"type":"text","font":"DejaVu Sans","fontSize":9,"fontWeight":"bold","color":"#111"},"encoding":{"longitude":{"field":"lx","type":"quantitative"},"latitude":{"field":"ly","type":"quantitative"},"text":{"field":"name"}}},
{"data":{"name":"ticksH"},"transform":[{"filter":"datum.panel==='ML'"}],"mark":{"type":"text","font":"Liberation Sans","fontSize":13,"color":"#222"},"encoding":{"longitude":{"field":"x","type":"quantitative"},"latitude":{"field":"y","type":"quantitative"},"text":{"field":"label"}}},
{"data":{"name":"ticksV"},"transform":[{"filter":"datum.panel==='ML'"}],"mark":{"type":"text","font":"Liberation Sans","fontSize":13,"color":"#222","angle":270},"encoding":{"longitude":{"field":"x","type":"quantitative"},"latitude":{"field":"y","type":"quantitative"},"text":{"field":"label"}}},
{"data":{"name":"barText"},"transform":[{"filter":"datum.panel==='ML'"}],"mark":{"type":"text","font":"Liberation Sans","fontSize":9,"color":"#222"},"encoding":{"longitude":{"field":"x","type":"quantitative"},"latitude":{"field":"y","type":"quantitative"},"text":{"field":"label"}}},
{"data":{"name":"north"},"transform":[{"filter":"datum.panel==='ML'"}],"mark":{"type":"text","font":"Liberation Sans","fontSize":24,"color":"#111"},"encoding":{"longitude":{"field":"x","type":"quantitative"},"latitude":{"field":"y","type":"quantitative"},"text":{"field":"label"}}}
]},
{"width":581,"height":455,"projection":{"type":"identity","precision":0.8,"scale":0.3333333,"translate":[60,90]},"layer":[
{"data":{"name":"zones"},"transform":[{"filter":"datum.panel==='MR'"}],"mark":{"type":"geoshape","stroke":null},"encoding":{"color":{"field":"value","type":"nominal","scale":{"domain":["-1.93","-0.88","-0.29","0.17","0.88","1.35"],"range":["#0ff0e8","#9cc4f5","#6a78dc","#4a00f0","#a800f0","#ff10f0"]},"legend":{"title":"بارش- تابستان","orient":"none","legendX":452,"legendY":220,"titleFont":"DejaVu Sans","titleFontWeight":"bold","titleFontSize":13,"titleColor":"#111","titleAnchor":"middle","titlePadding":12,"labelFont":"Liberation Sans","labelFontSize":14,"labelColor":"#222","labelOffset":17,"rowPadding":3.4,"symbolSize":324,"symbolStrokeColor":"#999","symbolStrokeWidth":1,"symbolType":"M-1.6,-0.5 C-1.3,-1 -0.9,-0.9 -0.4,-0.55 C0,-0.3 0.4,-0.6 0.8,-0.95 C1.2,-1.1 1.35,-0.8 1.1,-0.3 C1,-0.1 1.7,0.3 1.6,0.7 C1.5,1.05 1.1,1 0.6,0.85 C0.1,0.6 -0.3,0.7 -0.7,0.95 C-1.2,1.15 -1.7,0.8 -1.65,0.2 C-1.65,-0.1 -1.7,-0.3 -1.6,-0.5 Z"}}}},
{"data":{"name":"frames"},"transform":[{"filter":"datum.panel==='MR'"}],"mark":{"type":"geoshape","fill":"white","stroke":"#222","strokeWidth":1.3},"encoding":{}},
{"data":{"name":"ornWhite"},"transform":[{"filter":"datum.panel==='MR'"}],"mark":{"type":"geoshape","fill":"white","stroke":"#222","strokeWidth":0.8},"encoding":{}},
{"data":{"name":"barBlack"},"transform":[{"filter":"datum.panel==='MR'"}],"mark":{"type":"geoshape","fill":"black","stroke":null},"encoding":{}},
{"data":{"name":"stations"},"transform":[{"filter":"datum.panel==='MR'"}],"mark":{"type":"point","shape":"triangle-up","filled":true,"color":"black","opacity":1,"size":65},"encoding":{"longitude":{"field":"tx","type":"quantitative"},"latitude":{"field":"ty","type":"quantitative"}}},
{"data":{"name":"stations"},"transform":[{"filter":"datum.panel==='MR'"}],"mark":{"type":"text","font":"DejaVu Sans","fontSize":8.5,"fontWeight":"bold","color":"#111"},"encoding":{"longitude":{"field":"lx","type":"quantitative"},"latitude":{"field":"ly","type":"quantitative"},"text":{"field":"name"}}},
{"data":{"name":"ticksH"},"transform":[{"filter":"datum.panel==='MR'"}],"mark":{"type":"text","font":"Liberation Sans","fontSize":13,"color":"#222"},"encoding":{"longitude":{"field":"x","type":"quantitative"},"latitude":{"field":"y","type":"quantitative"},"text":{"field":"label"}}},
{"data":{"name":"ticksV"},"transform":[{"filter":"datum.panel==='MR'"}],"mark":{"type":"text","font":"Liberation Sans","fontSize":13,"color":"#222","angle":270},"encoding":{"longitude":{"field":"x","type":"quantitative"},"latitude":{"field":"y","type":"quantitative"},"text":{"field":"label"}}},
{"data":{"name":"barText"},"transform":[{"filter":"datum.panel==='MR'"}],"mark":{"type":"text","font":"Liberation Sans","fontSize":9,"color":"#222"},"encoding":{"longitude":{"field":"x","type":"quantitative"},"latitude":{"field":"y","type":"quantitative"},"text":{"field":"label"}}},
{"data":{"name":"north"},"transform":[{"filter":"datum.panel==='MR'"}],"mark":{"type":"text","font":"Liberation Sans","fontSize":22,"color":"#111"},"encoding":{"longitude":{"field":"x","type":"quantitative"},"latitude":{"field":"y","type":"quantitative"},"text":{"field":"label"}}}
]},
{"width":580,"height":389,"projection":{"type":"identity","precision":0.9,"scale":0.3333333,"translate":[30,65]},"layer":[
{"data":{"name":"zones"},"transform":[{"filter":"datum.panel==='BL'"}],"mark":{"type":"geoshape","stroke":null},"encoding":{"color":{"field":"value","type":"nominal","scale":{"domain":["-1.93","-0.75","0.44","1.64","2.38","5.19"],"range":["#f8f500","#f2c600","#f59205","#f56a05","#f53f05","#f50f0f"]},"legend":{"title":"دما- سالانه","orient":"none","legendX":443.5,"legendY":189,"titleFont":"DejaVu Sans","titleFontWeight":"bold","titleFontSize":17,"titleColor":"#111","titleAnchor":"middle","titlePadding":14,"labelFont":"Liberation Sans","labelFontSize":14,"labelColor":"#222","labelOffset":17,"rowPadding":1.8,"symbolSize":324,"symbolStrokeColor":"#999","symbolStrokeWidth":1,"symbolType":"M-1.6,-0.5 C-1.3,-1 -0.9,-0.9 -0.4,-0.55 C0,-0.3 0.4,-0.6 0.8,-0.95 C1.2,-1.1 1.35,-0.8 1.1,-0.3 C1,-0.1 1.7,0.3 1.6,0.7 C1.5,1.05 1.1,1 0.6,0.85 C0.1,0.6 -0.3,0.7 -0.7,0.95 C-1.2,1.15 -1.7,0.8 -1.65,0.2 C-1.65,-0.1 -1.7,-0.3 -1.6,-0.5 Z"}}}},
{"data":{"name":"frames"},"transform":[{"filter":"datum.panel==='BL'"}],"mark":{"type":"geoshape","fill":"white","stroke":"#222","strokeWidth":1.3},"encoding":{}},
{"data":{"name":"ornWhite"},"transform":[{"filter":"datum.panel==='BL'"}],"mark":{"type":"geoshape","fill":"white","stroke":"#222","strokeWidth":0.8},"encoding":{}},
{"data":{"name":"barBlack"},"transform":[{"filter":"datum.panel==='BL'"}],"mark":{"type":"geoshape","fill":"black","stroke":null},"encoding":{}},
{"data":{"name":"stations"},"transform":[{"filter":"datum.panel==='BL'"}],"mark":{"type":"point","shape":"triangle-up","filled":true,"color":"black","opacity":1,"size":65},"encoding":{"longitude":{"field":"tx","type":"quantitative"},"latitude":{"field":"ty","type":"quantitative"}}},
{"data":{"name":"stations"},"transform":[{"filter":"datum.panel==='BL'"}],"mark":{"type":"text","font":"DejaVu Sans","fontSize":9,"fontWeight":"bold","color":"#111"},"encoding":{"longitude":{"field":"lx","type":"quantitative"},"latitude":{"field":"ly","type":"quantitative"},"text":{"field":"name"}}},
{"data":{"name":"ticksH"},"transform":[{"filter":"datum.panel==='BL'"}],"mark":{"type":"text","font":"Liberation Sans","fontSize":13,"color":"#222"},"encoding":{"longitude":{"field":"x","type":"quantitative"},"latitude":{"field":"y","type":"quantitative"},"text":{"field":"label"}}},
{"data":{"name":"ticksV"},"transform":[{"filter":"datum.panel==='BL'"}],"mark":{"type":"text","font":"Liberation Sans","fontSize":13,"color":"#222","angle":270},"encoding":{"longitude":{"field":"x","type":"quantitative"},"latitude":{"field":"y","type":"quantitative"},"text":{"field":"label"}}},
{"data":{"name":"barText"},"transform":[{"filter":"datum.panel==='BL'"}],"mark":{"type":"text","font":"Liberation Sans","fontSize":9,"color":"#222"},"encoding":{"longitude":{"field":"x","type":"quantitative"},"latitude":{"field":"y","type":"quantitative"},"text":{"field":"label"}}},
{"data":{"name":"north"},"transform":[{"filter":"datum.panel==='BL'"}],"mark":{"type":"text","font":"Liberation Sans","fontSize":19,"color":"#111"},"encoding":{"longitude":{"field":"x","type":"quantitative"},"latitude":{"field":"y","type":"quantitative"},"text":{"field":"label"}}}
]},
{"width":581,"height":389,"projection":{"type":"identity","precision":1,"scale":0.3333333,"translate":[60,80]},"layer":[
{"data":{"name":"zones"},"transform":[{"filter":"datum.panel==='BR'"}],"mark":{"type":"geoshape","stroke":null},"encoding":{"color":{"field":"value","type":"nominal","scale":{"domain":["-3.01","-1.81","-1.21","-0.61","0","0.58"],"range":["#b8e8ec","#85bce8","#4a90e0","#2068cc","#1a3fb0","#0a108a"]},"legend":{"title":"بارش-سالانه","orient":"none","legendX":459.5,"legendY":195,"titleFont":"DejaVu Sans","titleFontWeight":"bold","titleFontSize":14,"titleColor":"#111","titleAnchor":"middle","titlePadding":14,"labelFont":"Liberation Sans","labelFontSize":13,"labelColor":"#222","labelOffset":17,"rowPadding":0,"symbolSize":324,"symbolStrokeColor":"#999","symbolStrokeWidth":1,"symbolType":"M-1.6,-0.5 C-1.3,-1 -0.9,-0.9 -0.4,-0.55 C0,-0.3 0.4,-0.6 0.8,-0.95 C1.2,-1.1 1.35,-0.8 1.1,-0.3 C1,-0.1 1.7,0.3 1.6,0.7 C1.5,1.05 1.1,1 0.6,0.85 C0.1,0.6 -0.3,0.7 -0.7,0.95 C-1.2,1.15 -1.7,0.8 -1.65,0.2 C-1.65,-0.1 -1.7,-0.3 -1.6,-0.5 Z"}}}},
{"data":{"name":"frames"},"transform":[{"filter":"datum.panel==='BR'"}],"mark":{"type":"geoshape","fill":"white","stroke":"#222","strokeWidth":1.3},"encoding":{}},
{"data":{"name":"ornWhite"},"transform":[{"filter":"datum.panel==='BR'"}],"mark":{"type":"geoshape","fill":"white","stroke":"#222","strokeWidth":0.8},"encoding":{}},
{"data":{"name":"barBlack"},"transform":[{"filter":"datum.panel==='BR'"}],"mark":{"type":"geoshape","fill":"black","stroke":null},"encoding":{}},
{"data":{"name":"stations"},"transform":[{"filter":"datum.panel==='BR'"}],"mark":{"type":"point","shape":"triangle-up","filled":true,"color":"#ee1111","stroke":"#1a1a60","strokeWidth":0.4,"opacity":1,"size":70},"encoding":{"longitude":{"field":"tx","type":"quantitative"},"latitude":{"field":"ty","type":"quantitative"}}},
{"data":{"name":"stations"},"transform":[{"filter":"datum.panel==='BR'"}],"mark":{"type":"text","font":"DejaVu Sans","fontSize":9,"fontWeight":"bold","color":"#f2f2f2"},"encoding":{"longitude":{"field":"lx","type":"quantitative"},"latitude":{"field":"ly","type":"quantitative"},"text":{"field":"name"}}},
{"data":{"name":"ticksH"},"transform":[{"filter":"datum.panel==='BR'"}],"mark":{"type":"text","font":"Liberation Sans","fontSize":13,"color":"#222"},"encoding":{"longitude":{"field":"x","type":"quantitative"},"latitude":{"field":"y","type":"quantitative"},"text":{"field":"label"}}},
{"data":{"name":"ticksV"},"transform":[{"filter":"datum.panel==='BR'"}],"mark":{"type":"text","font":"Liberation Sans","fontSize":13,"color":"#222","angle":270},"encoding":{"longitude":{"field":"x","type":"quantitative"},"latitude":{"field":"y","type":"quantitative"},"text":{"field":"label"}}},
{"data":{"name":"barText"},"transform":[{"filter":"datum.panel==='BR'"}],"mark":{"type":"text","font":"Liberation Sans","fontSize":9,"color":"#222"},"encoding":{"longitude":{"field":"x","type":"quantitative"},"latitude":{"field":"y","type":"quantitative"},"text":{"field":"label"}}},
{"data":{"name":"north"},"transform":[{"filter":"datum.panel==='BR'"}],"mark":{"type":"text","font":"Liberation Sans","fontSize":20,"color":"#111"},"encoding":{"longitude":{"field":"x","type":"quantitative"},"latitude":{"field":"y","type":"quantitative"},"text":{"field":"label"}}}
]}
]}
